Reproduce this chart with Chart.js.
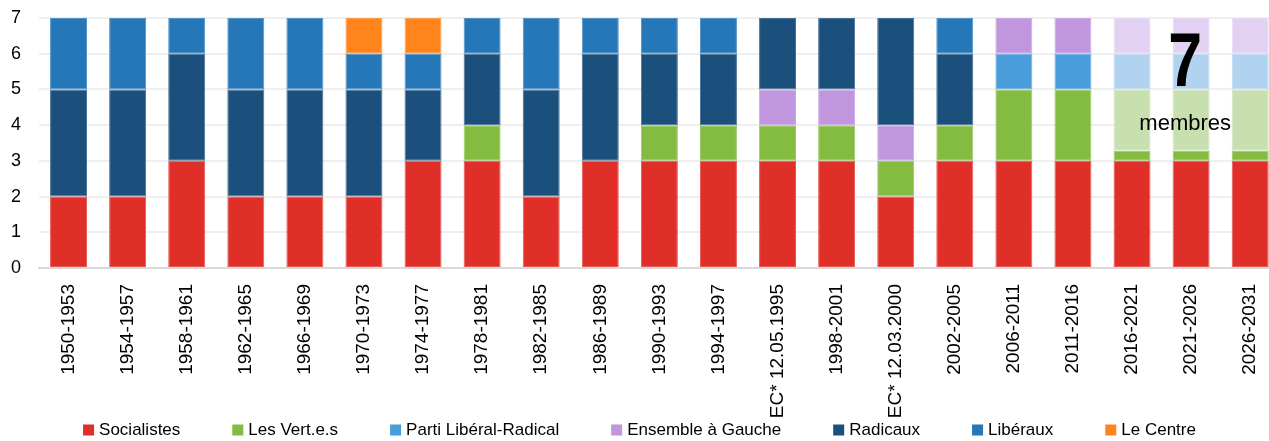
<!DOCTYPE html>
<html>
<head>
<meta charset="utf-8">
<script src="https://cdn.jsdelivr.net/npm/chart.js@4.4.1/dist/chart.umd.min.js"></script>
<style>
  html, body { margin: 0; padding: 0; overflow: hidden; background: #fff; }
  canvas { display: block; }
</style>
</head>
<body>
<canvas id="chart" width="1289" height="441"></canvas>
<script>
const periods = [
  "1950-1953", "1954-1957", "1958-1961", "1962-1965", "1966-1969", "1970-1973",
  "1974-1977", "1978-1981", "1982-1985", "1986-1989", "1990-1993", "1994-1997",
  "EC* 12.05.1995", "1998-2001", "EC* 12.03.2000", "2002-2005", "2006-2011",
  "2011-2016", "2016-2021", "2021-2026", "2026-2031"
];

const socialistes = [2, 2, 3, 2, 2, 2, 3, 3, 2, 3, 3, 3, 3, 3, 2, 3, 3, 3, 3, 3, 3];
const vertes = [0, 0, 0, 0, 0, 0, 0, 1, 0, 0, 1, 1, 1, 1, 1, 1, 2, 2, 0.28, 0.28, 0.28];
const vertesProjection = [0, 0, 0, 0, 0, 0, 0, 0, 0, 0, 0, 0, 0, 0, 0, 0, 0, 0, 1.72, 1.72, 1.72];
const plr = [0, 0, 0, 0, 0, 0, 0, 0, 0, 0, 0, 0, 0, 0, 0, 0, 1, 1, 1, 1, 1];
const ensembleGauche = [0, 0, 0, 0, 0, 0, 0, 0, 0, 0, 0, 0, 1, 1, 1, 0, 1, 1, 1, 1, 1];
const radicaux = [3, 3, 3, 3, 3, 3, 2, 2, 3, 3, 2, 2, 2, 2, 3, 2, 0, 0, 0, 0, 0];
const liberaux = [2, 2, 1, 2, 2, 1, 1, 1, 2, 1, 1, 1, 0, 0, 0, 1, 0, 0, 0, 0, 0];
const leCentre = [0, 0, 0, 0, 0, 1, 1, 0, 0, 0, 0, 0, 0, 0, 0, 0, 0, 0, 0, 0, 0];

const yTicks = [0, 1, 2, 3, 4, 5, 6, 7];
const annotationNumber = "7";
const annotationText = "membres";

const FONT = '"Liberation Sans", Arial, sans-serif';
const projectedFrom = 18; // last three legislatures are drawn in pale colours

function perBar(color, paleColor) {
  return periods.map((p, i) => (i >= projectedFrom ? paleColor : color));
}

// lighter edge around each block, as in the original
function tint(hex, amount) {
  const n = parseInt(hex.slice(1), 16);
  const mix = (c) => Math.round(c + (255 - c) * amount);
  return `rgb(${mix(n >> 16)}, ${mix((n >> 8) & 255)}, ${mix(n & 255)})`;
}

function series(label, data, color, paleColor, extra) {
  const bg = paleColor ? perBar(color, paleColor) : color;
  const border = Array.isArray(bg) ? bg.map((c) => tint(c, 0.2)) : tint(bg, 0.2);
  return Object.assign(
    { label, data, backgroundColor: bg, borderColor: border, legendColor: color },
    extra || {}
  );
}

const datasets = [
  series("Socialistes", socialistes, "#e02f28"),
  series("Les Vert.e.s", vertes, "#84bb41"),
  series("Les Vert.e.s (projection)", vertesProjection, "#c8e0b0", null, { hideInLegend: true }),
  series("Parti Libéral-Radical", plr, "#4a9cdb", "#b1d3ef"),
  series("Ensemble à Gauche", ensembleGauche, "#c096de", "#e2d1f2"),
  series("Radicaux", radicaux, "#1b507c"),
  series("Libéraux", liberaux, "#2677b8"),
  series("Le Centre", leCentre, "#ff841c"),
];

// legend drawn under the axis labels, like the original
const bottomLegend = {
  id: "bottomLegend",
  afterDraw(chart) {
    const ctx = chart.ctx;
    const items = chart.data.datasets.filter((d) => !d.hideInLegend);
    const box = 11, textGap = 5, itemGap = 52;
    ctx.save();
    ctx.font = "17px " + FONT;
    ctx.textBaseline = "middle";
    const widths = items.map((d) => box + textGap + ctx.measureText(d.label).width);
    const total = widths.reduce((a, b) => a + b, 0) + itemGap * (items.length - 1);
    let x = (document.documentElement.clientWidth - total) / 2 + 5;
    const y = 430;
    items.forEach((d, i) => {
      ctx.fillStyle = d.legendColor;
      ctx.fillRect(x, y - box / 2, box, box);
      ctx.fillStyle = "#000";
      ctx.fillText(d.label, x + box + textGap, y);
      x += widths[i] + itemGap;
    });
    ctx.restore();
  },
};

const membresLabel = {
  id: "membresLabel",
  afterDatasetsDraw(chart) {
    const ctx = chart.ctx;
    const xs = chart.scales.x, ys = chart.scales.y;
    const cx = xs.getPixelForValue(18.9);
    ctx.save();
    ctx.fillStyle = "#000";
    ctx.textAlign = "center";
    ctx.textBaseline = "middle";
    ctx.font = "22px " + FONT;
    ctx.fillText(annotationText, cx, ys.getPixelForValue(4.03));
    // the big number is set in a condensed bold face
    ctx.translate(cx, 0);
    ctx.scale(0.8, 1);
    ctx.font = "bold 76px " + FONT;
    ctx.fillText(annotationNumber, 0, ys.getPixelForValue(5.68));
    ctx.restore();
  },
};

new Chart(document.getElementById("chart"), {
  type: "bar",
  data: { labels: periods, datasets: datasets },
  options: {
    responsive: false,
    animation: false,
    layout: { padding: { top: 18, right: 0, bottom: 0, left: 0 } },
    datasets: {
      bar: { categoryPercentage: 1, barPercentage: 0.626, borderWidth: 1, borderSkipped: false },
    },
    scales: {
      x: {
        stacked: true,
        grid: { display: false, drawTicks: false },
        border: { color: "#d9d9d9", width: 2 },
        ticks: {
          autoSkip: false,
          minRotation: 90,
          maxRotation: 90,
          padding: 16,
          color: "#000",
          font: { family: FONT, size: 19 },
        },
        afterFit(scale) { scale.height = 173; },
      },
      y: {
        stacked: true,
        min: 0,
        max: 7,
        afterBuildTicks(scale) { scale.ticks = yTicks.map((v) => ({ value: v })); },
        grid: { color: "#efefef", lineWidth: 2, drawTicks: false },
        border: { display: false },
        ticks: {
          padding: 18,
          color: "#000",
          font: { family: FONT, size: 18 },
        },
        afterFit(scale) {
          scale.width = 39;
          scale.paddingTop = 0;
          scale.paddingBottom = 0;
        },
      },
    },
    plugins: {
      legend: { display: false },
      tooltip: { enabled: false },
    },
  },
  plugins: [membresLabel, bottomLegend],
});
</script>
</body>
</html>
